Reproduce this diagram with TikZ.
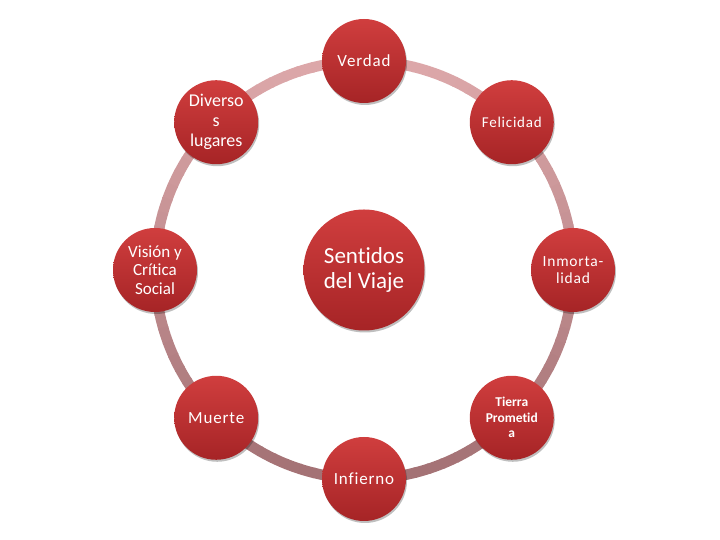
\documentclass[tikz,border=0pt]{standalone}
\usepackage{fontspec}
\setmainfont{Carlito}[Ligatures=NoCommon]
\newfontfamily\spaced[LetterSpace=5,Ligatures=NoCommon]{Carlito}
\usetikzlibrary{shadows,calc}
\definecolor{ringtop}{RGB}{221,168,170}
\definecolor{ringbot}{RGB}{163,113,116}
\definecolor{nodetop}{RGB}{208,62,62}
\definecolor{nodebot}{RGB}{166,36,38}
\tikzset{
  ball/.style={circle, minimum size=84pt, inner sep=0pt, draw=none,
    top color=nodetop, bottom color=nodebot, text=white, align=center,
    drop shadow={shadow xshift=1pt, shadow yshift=-2pt, opacity=0.25, fill=black}},
  bigball/.style={ball, minimum size=121pt},
}
\begin{document}
\begin{tikzpicture}[x=1pt,y=1pt]
\useasboundingbox (0,0) rectangle (720,540);
\coordinate (c) at (364,270);
% ring
\foreach \a in {0,4,...,356}{
  \pgfmathsetmacro\p{50+50*sin(\a+2)}
  \draw[line width=10.5pt, color=ringtop!\p!ringbot] ($(c)+(\a:209)$) arc[start angle=\a, end angle=\a+4.4, radius=209];
}
\node[bigball, font=\fontsize{23}{25}\selectfont] (center) at (c) {Sentidos\\del Viaje};
\node[ball, font=\spaced\fontsize{17}{19}\selectfont] (verdad) at ($(c)+(90:209)$) {Verdad};
\node[ball, font=\spaced\fontsize{15}{17}\selectfont] (felicidad) at ($(c)+(45:209)$) {Felicidad};
\node[ball, font=\spaced\fontsize{15.5}{17}\selectfont] (inmort) at ($(c)+(0:209)$) {Inmorta-\\lidad};
\node[ball, font=\bfseries\fontsize{13.5}{15.5}\selectfont] (tierra) at ($(c)+(-45:209)$) {Tierra\\Prometid\\a};
\node[ball, font=\spaced\fontsize{17}{19}\selectfont] (infierno) at ($(c)+(-90:209)$) {Infierno};
\node[ball, font=\spaced\fontsize{17}{19}\selectfont] (muerte) at ($(c)+(-135:209)$) {Muerte};
\node[ball, font=\fontsize{17}{18.5}\selectfont] (vision) at ($(c)+(180:209)$) {Visión y\\Crítica\\Social};
\node[ball, font=\fontsize{18}{20}\selectfont] (diversos) at ($(c)+(135:209)$) {Diverso\\s\\lugares};
\end{tikzpicture}
\end{document}
